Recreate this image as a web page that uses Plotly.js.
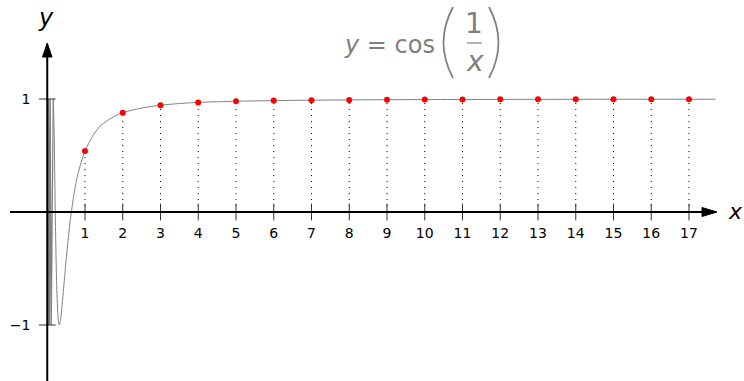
<!DOCTYPE html>
<html>
<head>
<meta charset="utf-8">
<script src="https://cdn.plot.ly/plotly-3.0.1.min.js"></script>
<style>
  html, body { margin: 0; padding: 0; background: #fff; }
  #graph { width: 744px; height: 381px; }
</style>
</head>
<body>
<div id="graph"></div>
<script>
// red points at the integers
var ptX = [1, 2, 3, 4, 5, 6, 7, 8, 9, 10, 11, 12, 13, 14, 15, 16, 17];
var ptY = [0.54, 0.878, 0.945, 0.969, 0.98, 0.986, 0.99, 0.992, 0.994, 0.995, 0.996, 0.997, 0.997, 0.997, 0.998, 0.998, 0.998];

// grey curve, smooth part
var curveX = [0.159, 0.18, 0.2, 0.22, 0.25, 0.29, 0.318, 0.35, 0.4, 0.45, 0.5, 0.6, 0.7, 0.8, 0.9, 1,
              1.2, 1.4, 1.6, 1.8, 2, 2.5, 3, 3.5, 4, 5, 6, 8, 10, 13, 17.7];
var curveY = [1, 0.75, 0.28, -0.17, -0.65, -0.95, -1, -0.96, -0.8, -0.61, -0.42, -0.1, 0.14, 0.32, 0.44, 0.54,
              0.67, 0.76, 0.81, 0.85, 0.88, 0.92, 0.945, 0.96, 0.97, 0.98, 0.986, 0.992, 0.995, 0.997, 0.998];

// the fast wiggles next to the y axis (turning points)
var oscX = [0.0159, 0.0168, 0.0177, 0.0187, 0.0199, 0.0212, 0.0227, 0.0245, 0.0265, 0.0289,
            0.0318, 0.0354, 0.0398, 0.0455, 0.0531, 0.0637, 0.0796, 0.1061, 0.159];
var oscY = [1, -1, 1, -1, 1, -1, 1, -1, 1, -1, 1, -1, 1, -1, 1, -1, 1, -1, 1];

var xTicks = [1, 2, 3, 4, 5, 6, 7, 8, 9, 10, 11, 12, 13, 14, 15, 16, 17];
var xTickText = ["1", "2", "3", "4", "5", "6", "7", "8", "9", "10", "11", "12", "13", "14", "15", "16", "17"];
var yTicks = [-1, 1];
var yTickText = ["\u22121", "1"];

var W = 744, H = 381;
var xRange = [-1.2517, 18.457];
var yRange = [-1.4956, 1.8761];
var FONT = "DejaVu Sans";
var GREY = "#808080";

// pixel -> paper (margins are zero so paper is the whole picture)
function px(x) { return x / W; }
function py(y) { return 1 - y / H; }
function P(x, y) { return px(x).toFixed(5) + "," + py(y).toFixed(5); }

// dotted droplines from the x axis up to every point
var dropX = [], dropY = [];
for (var i = 0; i < ptX.length; i++) {
  dropX.push(ptX[i], ptX[i], null);
  dropY.push(0, ptY[i], null);
}

var data = [
  {x: dropX, y: dropY, mode: "lines", line: {color: "#000", width: 1, dash: "1px,5px"}, hoverinfo: "skip"},
  {x: oscX, y: oscY, mode: "lines", line: {color: GREY, width: 1.2}},
  {x: curveX, y: curveY, mode: "lines", line: {color: GREY, width: 1, shape: "spline", smoothing: 0.6}},
  {x: xTicks, y: xTicks.map(function () { return 0; }), mode: "markers",
   marker: {symbol: "line-ns", size: 12, line: {color: "#333", width: 1}}},
  {x: yTicks.map(function () { return 0; }), y: yTicks, mode: "markers",
   marker: {symbol: "line-ew", size: 12, line: {color: "#333", width: 1}}},
  {x: ptX, y: ptY, mode: "markers", marker: {color: "#ff0000", size: 6}}
];

var shapes = [
  // axes
  {type: "line", xref: "paper", yref: "paper", x0: px(10), x1: px(705), y0: py(212), y1: py(212),
   line: {color: "#000", width: 2}},
  {type: "line", xref: "paper", yref: "paper", x0: px(47.25), x1: px(47.25), y0: py(381), y1: py(55),
   line: {color: "#000", width: 2}},
  // arrow heads
  {type: "path", xref: "paper", yref: "paper", path: "M" + P(702, 207.5) + "L" + P(717, 212) + "L" + P(702, 216.5) + "Z",
   fillcolor: "#000", line: {color: "#000", width: 1}},
  {type: "path", xref: "paper", yref: "paper", path: "M" + P(42.5, 57) + "L" + P(47.25, 43) + "L" + P(52, 57) + "Z",
   fillcolor: "#000", line: {color: "#000", width: 1}},
  // title: fraction bar and parentheses
  {type: "line", xref: "paper", yref: "paper", x0: px(467), x1: px(482), y0: py(43), y1: py(43),
   line: {color: GREY, width: 1.2}},
  {type: "path", xref: "paper", yref: "paper", path: "M" + P(453, 7) + "Q" + P(434, 42.5) + " " + P(453, 78),
   line: {color: GREY, width: 1.8}},
  {type: "path", xref: "paper", yref: "paper", path: "M" + P(489, 7) + "Q" + P(508, 42.5) + " " + P(489, 78),
   line: {color: GREY, width: 1.8}}
];

var annotations = [
  {xref: "paper", yref: "paper", x: px(389), y: py(45), text: "<i>y</i> = cos", showarrow: false,
   xanchor: "center", yanchor: "middle", font: {family: FONT, size: 24, color: GREY}},
  {xref: "paper", yref: "paper", x: px(474), y: py(23), text: "1", showarrow: false,
   xanchor: "center", yanchor: "middle", font: {family: FONT, size: 28, color: GREY}},
  {xref: "paper", yref: "paper", x: px(474.5), y: py(62), text: "<i>x</i>", showarrow: false,
   xanchor: "center", yanchor: "middle", font: {family: FONT, size: 28, color: GREY}},
  {xref: "paper", yref: "paper", x: px(735), y: py(211), text: "<i>x</i>", showarrow: false,
   xanchor: "center", yanchor: "middle", font: {family: FONT, size: 22, color: "#000"}},
  {xref: "paper", yref: "paper", x: px(46), y: py(18), text: "<i>y</i>", showarrow: false,
   xanchor: "center", yanchor: "middle", font: {family: FONT, size: 24, color: "#000"}}
];

var layout = {
  width: W, height: H,
  margin: {l: 0, r: 0, t: 0, b: 0, pad: 0},
  paper_bgcolor: "#fff", plot_bgcolor: "#fff",
  showlegend: false,
  hovermode: false,
  xaxis: {
    range: xRange, fixedrange: true,
    showgrid: false, zeroline: false, showline: false,
    tickmode: "array", tickvals: xTicks, ticktext: xTickText,
    ticks: "outside", ticklen: 8, tickcolor: "rgba(0,0,0,0)",
    tickfont: {family: FONT, size: 14, color: "#000"},
    anchor: "free", position: (0 - yRange[0]) / (yRange[1] - yRange[0])
  },
  yaxis: {
    range: yRange, fixedrange: true,
    showgrid: false, zeroline: false, showline: false,
    tickmode: "array", tickvals: yTicks, ticktext: yTickText,
    ticks: "outside", ticklen: 14, tickcolor: "rgba(0,0,0,0)",
    tickfont: {family: FONT, size: 14, color: "#000"},
    anchor: "free", position: (0 - xRange[0]) / (xRange[1] - xRange[0])
  },
  shapes: shapes,
  annotations: annotations
};

Plotly.newPlot("graph", data, layout, {staticPlot: true});
</script>
</body>
</html>
